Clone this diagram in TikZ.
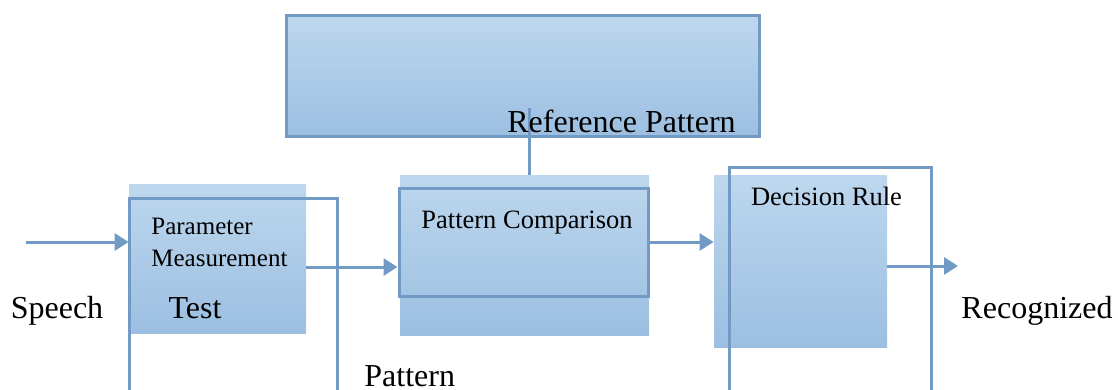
\documentclass[tikz,border=0pt]{standalone}
\usepackage{fontspec}
\setmainfont{Liberation Serif}
\usepackage{tikz}
\usetikzlibrary{arrows.meta,positioning,calc}
\definecolor{boxtop}{RGB}{189,215,238}
\definecolor{boxbot}{RGB}{156,191,225}
\definecolor{boxedge}{RGB}{113,154,197}

\begin{document}
\begin{tikzpicture}[x=0.5pt, y=-0.5pt,
    fillbox/.style={top color=boxtop, bottom color=boxbot, inner sep=0pt},
    edgebox/.style={draw=boxedge, line width=1.5pt, inner sep=0pt},
    edgeline/.style={draw=boxedge, line width=1.5pt},
    arr/.style={edgeline, -{Triangle[length=7pt,width=8.5pt]}},
    bigtxt/.style={font=\fontsize{16}{19}\selectfont, inner sep=0pt, anchor=base},
    midtxt/.style={font=\fontsize{13.25}{16}\selectfont, inner sep=0pt, anchor=base}]
  \useasboundingbox (0,0) rectangle (1118,390);
  % Reference pattern
  \node[fillbox, edgebox, minimum width=236.5pt, minimum height=60pt] (refbox) at (522.5,76) {};
  \coordinate (refout) at (529,108);
  % Shaded blocks
  \node[fillbox, minimum width=88.5pt, minimum height=74.5pt] (pmfill) at (217.5,258.5) {};
  \node[fillbox, minimum width=124.5pt, minimum height=80pt] (pcfill) at (524.5,255) {};
  \node[fillbox, minimum width=86.5pt, minimum height=86pt] (drfill) at (800.5,261) {};
  \draw[edgeline] (refout) -- (refout |- pcfill.north);
  % Outlines
  \node[edgebox, minimum width=124.5pt, minimum height=54pt] (pcbox) at (523.5,242) {};
  \draw[edgeline] (129,392) -- (129,198) -- (337,198) -- (337,392);
  \draw[edgeline] (729,392) -- (729,167) -- (931,167) -- (931,392);
  % Arrows
  \coordinate (spin) at (26,242);
  \coordinate (recout) at (958,266);
  \draw[arr] (spin) -- (spin -| pmfill.west);
  \draw[arr] ([yshift=-4.25pt]pmfill.east) -- ([yshift=-4.25pt]pmfill.east -| pcbox.west);
  \draw[arr] (pcbox.east) -- (pcbox.east -| drfill.west);
  \draw[arr] (drfill.east |- recout) -- (recout);
  % Labels
  \node[bigtxt] (reflbl) at (621.5,133) {Reference Pattern};
  \node[font=\fontsize{12.5}{16}\selectfont, inner sep=0pt, align=left, anchor=base west] (pmlbl) at (151,266) {Parameter\\Measurement};
  \node[midtxt] (pclbl) at (527,228) {Pattern Comparison};
  \node[midtxt] (drlbl) at (826.5,205) {Decision Rule};
  \node[bigtxt] (speech) at (57,318) {Speech};
  \node[bigtxt] (test) at (195,318) {Test};
  \node[bigtxt] (recog) at (1037,318) {Recognized};
  \node[bigtxt, anchor=base west] (pattern) at (364,386) {Pattern};
\end{tikzpicture}
\end{document}
